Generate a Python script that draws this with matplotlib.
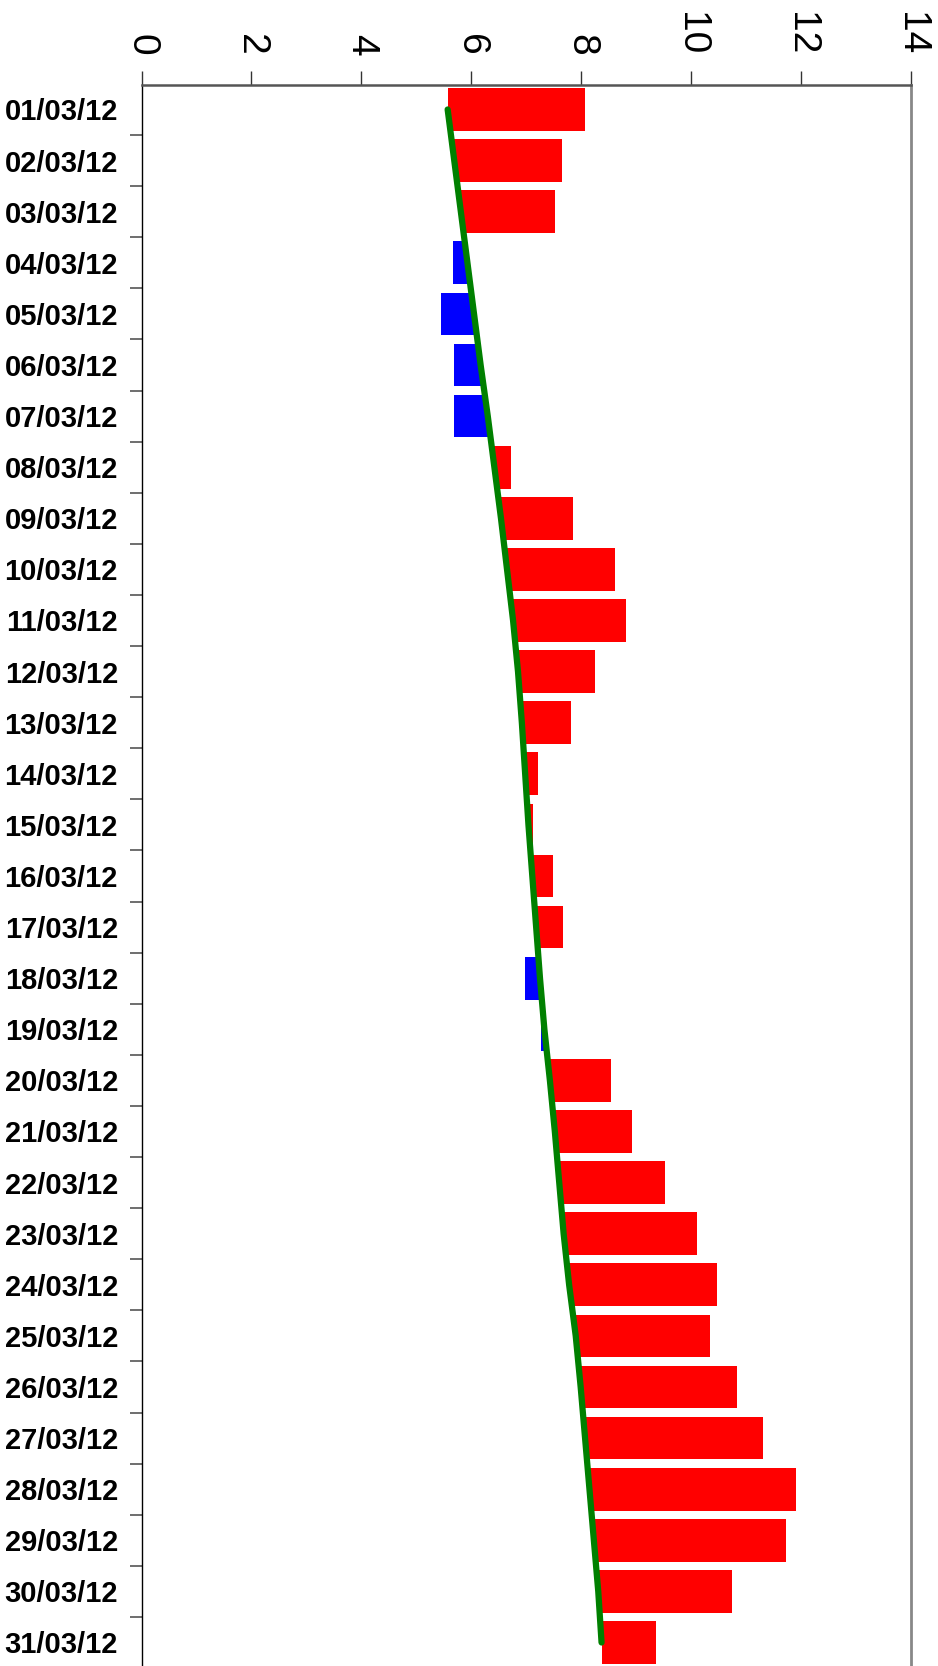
import numpy as np
import matplotlib
matplotlib.use("Agg")
import matplotlib.pyplot as plt
from matplotlib.ticker import FixedLocator

dates = ["01/03/12", "02/03/12", "03/03/12", "04/03/12", "05/03/12", "06/03/12",
         "07/03/12", "08/03/12", "09/03/12", "10/03/12", "11/03/12", "12/03/12",
         "13/03/12", "14/03/12", "15/03/12", "16/03/12", "17/03/12", "18/03/12",
         "19/03/12", "20/03/12", "21/03/12", "22/03/12", "23/03/12", "24/03/12",
         "25/03/12", "26/03/12", "27/03/12", "28/03/12", "29/03/12", "30/03/12",
         "31/03/12"]

values = [8.07, 7.65, 7.52, 5.67, 5.45, 5.69, 5.69, 6.72, 7.85, 8.61, 8.81, 8.25,
          7.81, 7.21, 7.12, 7.48, 7.67, 6.98, 7.27, 8.54, 8.92, 9.52, 10.10, 10.47,
          10.34, 10.83, 11.30, 11.90, 11.72, 10.74, 9.36]

trend = [5.57, 5.69, 5.81, 5.93, 6.05, 6.17, 6.30, 6.42, 6.54, 6.65, 6.76, 6.85,
         6.92, 6.98, 7.04, 7.11, 7.18, 7.25, 7.33, 7.43, 7.52, 7.60, 7.68, 7.78,
         7.90, 7.99, 8.07, 8.15, 8.23, 8.31, 8.37]

x_ticks = [0, 2, 4, 6, 8, 10, 12, 14]

W, H = 938, 1666
fig = plt.figure(figsize=(W / 100, H / 100), dpi=100)
left_px, right_px, top_px = 141.5, 911.0, 84.7
ax = fig.add_axes([left_px / W, 0, (right_px - left_px) / W, (H - top_px) / H])

vals = np.array(values)
base = np.array(trend)
ypos = np.arange(len(dates))
colors = np.where(vals >= base, "#ff0000", "#0000ff")

ax.barh(ypos, vals - base, left=base, height=0.835, color=colors, linewidth=0, zorder=2)
ax.plot(base, ypos, color="#008000", lw=4.5, solid_capstyle="round",
        solid_joinstyle="round", zorder=3)

ax.set_xlim(0, 14)
ax.set_ylim(30.46, -0.485)

# top x axis
ax.xaxis.tick_top()
ax.set_xticks(x_ticks)
ax.set_xticklabels([str(t) for t in x_ticks], rotation=-90, fontsize=28,
                   family=["Liberation Sans", "DejaVu Sans"])
ax.tick_params(axis="x", which="major", length=10, width=1, color="#333333",
               pad=11, top=True, bottom=False, labeltop=True, labelbottom=False)
for lbl in ax.get_xticklabels():
    lbl.set_va("bottom")
    lbl.set_ha("center")

# left y axis
ax.set_yticks(ypos)
ax.set_yticklabels(dates, fontsize=21, fontweight="bold",
                   family=["Liberation Sans", "DejaVu Sans"])
ax.yaxis.set_minor_locator(FixedLocator(np.arange(-0.5, len(dates), 1.0)))
ax.tick_params(axis="y", which="major", length=0, pad=17)
ax.tick_params(axis="y", which="minor", length=9, width=1.2, color="#555555")

ax.spines["top"].set_color("#555555")
ax.spines["top"].set_linewidth(1.8)
ax.spines["right"].set_color("#888888")
ax.spines["right"].set_linewidth(2)
ax.spines["left"].set_color("#000000")
ax.spines["left"].set_linewidth(1)
ax.spines["bottom"].set_visible(False)

fig.savefig("out.png", dpi=100, facecolor="white")
